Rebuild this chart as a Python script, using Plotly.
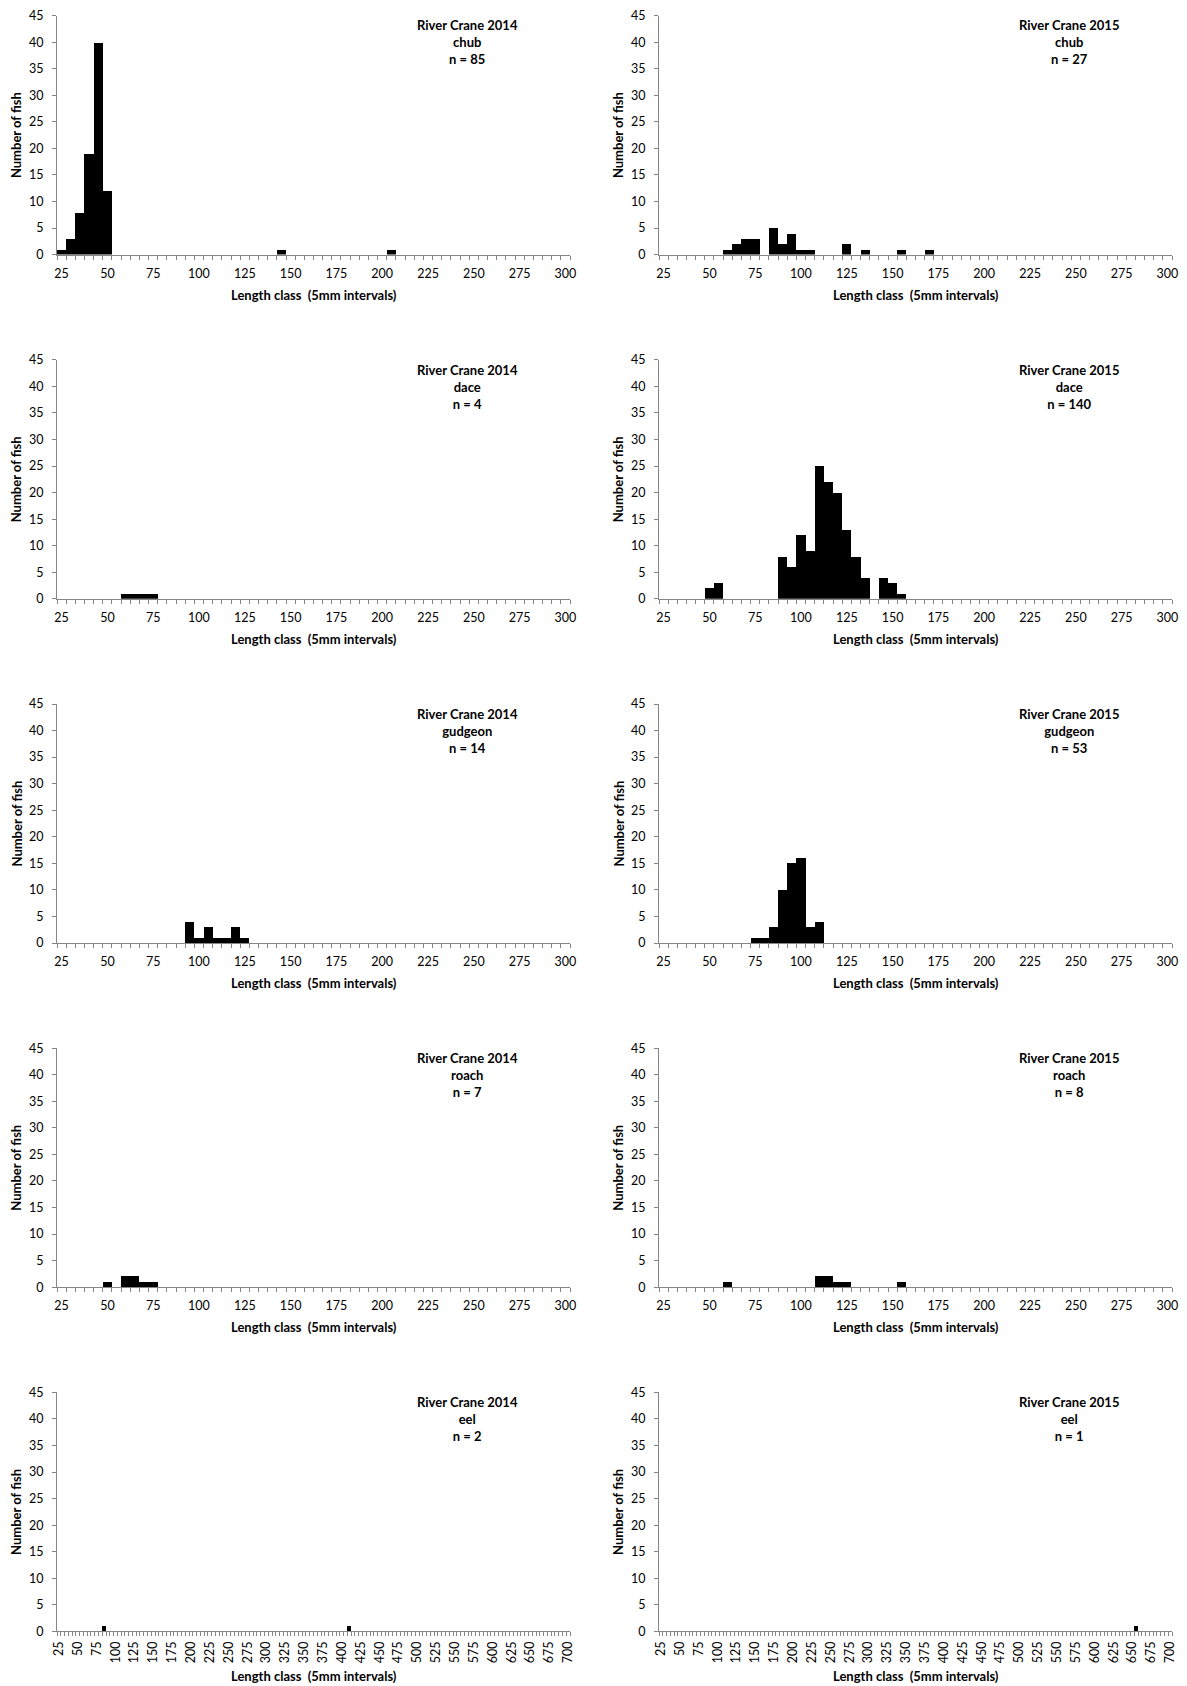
import plotly.graph_objects as go

# ---------------- data (length class in mm, number of fish) ----------------
chub_2014_len = [25, 30, 35, 40, 45, 50, 145, 205]
chub_2014_n = [1, 3, 8, 19, 40, 12, 1, 1]

chub_2015_len = [60, 65, 70, 75, 85, 90, 95, 100, 105, 125, 135, 155, 170]
chub_2015_n = [1, 2, 3, 3, 5, 2, 4, 1, 1, 2, 1, 1, 1]

dace_2014_len = [60, 65, 70, 75]
dace_2014_n = [1, 1, 1, 1]

dace_2015_len = [50, 55, 90, 95, 100, 105, 110, 115, 120, 125, 130, 135, 145, 150, 155]
dace_2015_n = [2, 3, 8, 6, 12, 9, 25, 22, 20, 13, 8, 4, 4, 3, 1]

gudgeon_2014_len = [95, 100, 105, 110, 115, 120, 125]
gudgeon_2014_n = [4, 1, 3, 1, 1, 3, 1]

gudgeon_2015_len = [75, 80, 85, 90, 95, 100, 105, 110]
gudgeon_2015_n = [1, 1, 3, 10, 15, 16, 3, 4]

roach_2014_len = [50, 60, 65, 70, 75]
roach_2014_n = [1, 2, 2, 1, 1]

roach_2015_len = [60, 110, 115, 120, 125, 155]
roach_2015_n = [1, 2, 2, 1, 1, 1]

eel_2014_len = [85, 410]
eel_2014_n = [1, 1]

eel_2015_len = [655]
eel_2015_n = [1]

species = ["chub", "dace", "gudgeon", "roach", "eel"]
years = ["2014", "2015"]
sample_sizes = {"chub": ["85", "27"], "dace": ["4", "140"], "gudgeon": ["14", "53"],
                "roach": ["7", "8"], "eel": ["2", "1"]}
panels = {
    ("chub", "2014"): (chub_2014_len, chub_2014_n),
    ("chub", "2015"): (chub_2015_len, chub_2015_n),
    ("dace", "2014"): (dace_2014_len, dace_2014_n),
    ("dace", "2015"): (dace_2015_len, dace_2015_n),
    ("gudgeon", "2014"): (gudgeon_2014_len, gudgeon_2014_n),
    ("gudgeon", "2015"): (gudgeon_2015_len, gudgeon_2015_n),
    ("roach", "2014"): (roach_2014_len, roach_2014_n),
    ("roach", "2015"): (roach_2015_len, roach_2015_n),
    ("eel", "2014"): (eel_2014_len, eel_2014_n),
    ("eel", "2015"): (eel_2015_len, eel_2015_n),
}
x_max_small = 300
x_max_eel = 700
y_ticks = list(range(0, 50, 5))

# ---------------- layout ----------------
W, H = 1187, 1686
FONT = "Lato, 'Open Sans', sans-serif"
AX_COLOR = "#868686"
TXT = "#000000"

col_left = [49, 651]
plot_w = 513
row_top0 = 7.6
row_step = 344.2
plot_h = 239

fig = go.Figure()
layout = dict(
    width=W, height=H, margin=dict(l=0, r=0, t=0, b=0, autoexpand=False),
    paper_bgcolor="white", plot_bgcolor="white", showlegend=False,
    bargap=0, font=dict(family=FONT, size=12, color=TXT),
)
annotations = []

idx = 0
for r, sp in enumerate(species):
    for c, yr in enumerate(years):
        idx += 1
        xa = "x" if idx == 1 else f"x{idx}"
        ya = "y" if idx == 1 else f"y{idx}"
        xkey = "xaxis" if idx == 1 else f"xaxis{idx}"
        ykey = "yaxis" if idx == 1 else f"yaxis{idx}"
        lens, counts = panels[(sp, yr)]
        fig.add_trace(go.Bar(x=lens, y=counts, width=5, marker=dict(color="black", line=dict(width=0)),
                             xaxis=xa, yaxis=ya))
        x0 = col_left[c]
        top = row_top0 + r * row_step
        bottom = top + plot_h
        xmax = x_max_eel if sp == "eel" else x_max_small
        xt = list(range(25, xmax + 1, 25))
        layout[xkey] = dict(
            domain=[x0 / W, (x0 + plot_w) / W], anchor=ya,
            range=[22.5, xmax + 2.5], showgrid=False, zeroline=False,
            showline=True, linecolor=AX_COLOR, linewidth=1,
            tickmode="array", tickvals=xt, ticktext=[str(v) for v in xt],
            ticks="", tickangle=-90 if sp == "eel" else 0,
            ticklabelstandoff=4 if sp == "eel" else 7,
            tickfont=dict(family=FONT, size=12.5, color=TXT),
            minor=dict(ticks="outside", tickmode="linear", tick0=22.5, dtick=5,
                       ticklen=4, tickcolor=AX_COLOR, tickwidth=1, showgrid=False),
            fixedrange=True,
        )
        layout[ykey] = dict(
            domain=[1 - bottom / H, 1 - top / H], anchor=xa,
            range=[0, 45], tickmode="array", tickvals=y_ticks,
            showgrid=False, zeroline=False, showline=True, linecolor=AX_COLOR, linewidth=1,
            ticks="outside", ticklen=4, tickcolor=AX_COLOR, ticklabelstandoff=6,
            ticklabeloverflow="allow",
            tickfont=dict(family=FONT, size=12.5, color=TXT), fixedrange=True,
        )
        # panel label
        annotations.append(dict(
            xref="paper", yref="paper", x=(x0 + 410) / W, y=1 - (top - 0.3) / H,
            xanchor="center", yanchor="top", showarrow=False, align="center",
            text=f"<b>River Crane {yr}</b><br><b>{sp}</b><br><b>n = {sample_sizes[sp][c]}</b>",
            font=dict(family=FONT, size=13, color=TXT),
        ))
        # y title
        annotations.append(dict(
            xref="paper", yref="paper", x=(x0 - 41) / W, y=1 - (top + plot_h / 2) / H,
            xanchor="center", yanchor="middle", showarrow=False, textangle=-90,
            text="<b>Number of fish</b>", font=dict(family=FONT, size=13, color=TXT),
        ))
        # x title
        xt_y = bottom + (45 if sp == "eel" else 40)
        annotations.append(dict(
            xref="paper", yref="paper", x=(x0 + 257) / W, y=1 - xt_y / H,
            xanchor="center", yanchor="middle", showarrow=False,
            text="<b>Length class&nbsp;&nbsp;(5mm intervals)</b>", font=dict(family=FONT, size=13, color=TXT),
        ))

layout["annotations"] = annotations
fig.update_layout(**layout)
fig.write_html("out.html")
